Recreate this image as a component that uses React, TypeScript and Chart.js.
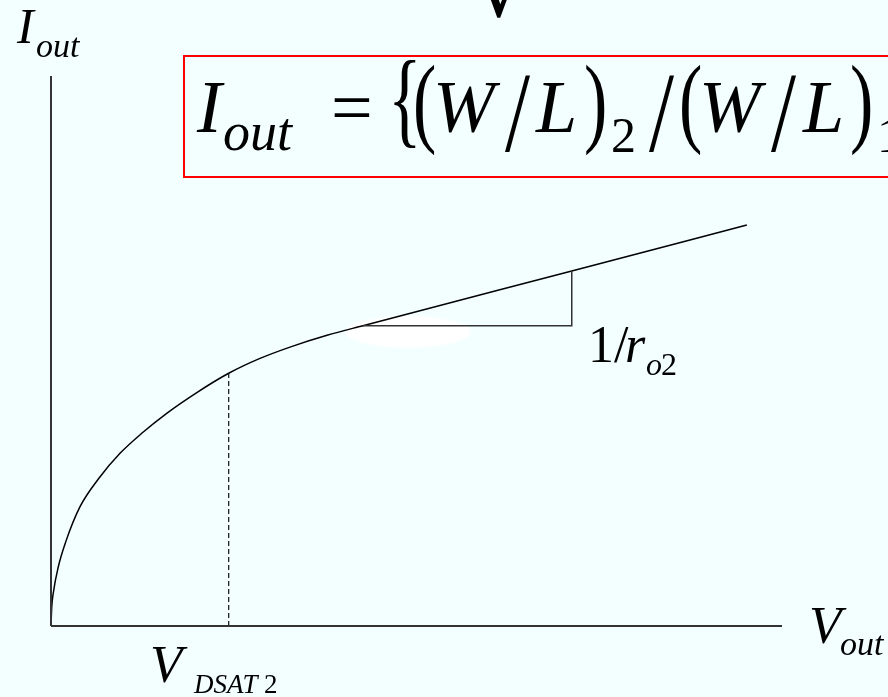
import { useEffect, useRef } from "react";
import { Chart, registerables } from "chart.js";

Chart.register(...registerables);

// Output characteristic of the current mirror: V_out samples and I_out values
const vout = [0, 0.01, 0.03, 0.1, 0.2, 0.397, 0.65, 0.944, 1.25, 1.583, 2.0, 2.431, 2.859, 3.289, 3.776, 4.267, 7.124, 9.519];
const iout = [0, 0.341, 0.59, 1.078, 1.525, 2.169, 2.677, 3.14, 3.513, 3.867, 4.249, 4.595, 4.865, 5.08, 5.285, 5.46, 6.455, 7.291];

// sample where saturation starts (V_DSAT2) and the run/rise used for the 1/r_o2 slope
const vdsatIndex = 11;
const slopeFrom = 15;
const slopeTo = 16;

// axis extents
const xRange = [0, 10];
const yRange = [0, 10];

const BG = "#f3ffff";
const SERIF = "'Liberation Serif', 'Times New Roman', serif";

type Glyph = { t: string; x: number; y: number; size: number; italic?: boolean; sy?: number; font?: string };

// equation in the red frame (brackets and slashes are stretched vertically)
const equation: Glyph[] = [
  { t: "I", x: 197, y: 132, size: 74, italic: true },
  { t: "out", x: 223, y: 150, size: 54, italic: true },
  { t: "=", x: 331, y: 132, size: 74 },
  { t: "{", x: 388, y: 134, size: 70, sy: 1.5 },
  { t: "(", x: 413, y: 134, size: 70, sy: 1.42 },
  { t: "W", x: 433, y: 132, size: 74, italic: true },
  { t: "/", x: 505, y: 151, size: 90, sy: 1.28 },
  { t: "L", x: 536, y: 132, size: 74, italic: true },
  { t: ")", x: 584, y: 134, size: 70, sy: 1.42 },
  { t: "2", x: 611, y: 152, size: 50 },
  { t: "/", x: 649, y: 151, size: 90, sy: 1.28 },
  { t: "(", x: 679, y: 134, size: 70, sy: 1.42 },
  { t: "W", x: 699, y: 132, size: 74, italic: true },
  { t: "/", x: 771, y: 151, size: 90, sy: 1.28 },
  { t: "L", x: 803, y: 132, size: 74, italic: true },
  { t: ")", x: 850, y: 134, size: 70, sy: 1.42 },
  { t: "1", x: 877, y: 152, size: 50 },
];

// axis and annotation labels
const labels: Glyph[] = [
  { t: "I", x: 17, y: 43, size: 50, italic: true },
  { t: "out", x: 36, y: 57, size: 34, italic: true },
  { t: "V", x: 809, y: 643, size: 53, italic: true },
  { t: "out", x: 840, y: 655, size: 34, italic: true },
  { t: "V", x: 150, y: 682, size: 53, italic: true },
  { t: "DSAT", x: 194, y: 693, size: 27, italic: true },
  { t: "2", x: 264, y: 693, size: 27 },
  { t: "1/", x: 588, y: 362, size: 52 },
  { t: "r", x: 625, y: 362, size: 52, italic: true },
  { t: "o", x: 646, y: 375, size: 32, italic: true },
  { t: "2", x: 661, y: 375, size: 32 },
  { t: "\u221A", x: 474, y: 16, size: 90, font: "'DejaVu Serif', serif" },
];

function drawGlyphs(ctx: CanvasRenderingContext2D, glyphs: Glyph[]) {
  ctx.fillStyle = "#000";
  ctx.textAlign = "left";
  ctx.textBaseline = "alphabetic";
  for (const g of glyphs) {
    ctx.save();
    ctx.font = `${g.italic ? "italic " : ""}${g.size}px ${g.font ?? SERIF}`;
    ctx.translate(g.x, g.y);
    ctx.scale(1, g.sy ?? 1);
    ctx.fillText(g.t, 0, 0);
    ctx.restore();
  }
}

const pt = (i: number) => ({ x: vout[i], y: iout[i] });

export default function App() {
  const ref = useRef<HTMLCanvasElement | null>(null);

  useEffect(() => {
    document.body.style.margin = "0";
    document.body.style.background = BG;
    const canvas = ref.current;
    if (!canvas) return;

    const curve = vout.map((v, i) => ({ x: v, y: iout[i] }));
    const dsat = pt(vdsatIndex);
    const a = pt(slopeFrom);
    const b = pt(slopeTo);

    const decorations = {
      id: "decorations",
      beforeDatasetsDraw(chart: Chart) {
        const { ctx } = chart;
        // white highlight just under the start of the slope triangle
        const cx = chart.scales.x.getPixelForValue(a.x) + 45;
        const cy = chart.scales.y.getPixelForValue(a.y) + 6;
        ctx.save();
        ctx.fillStyle = "#ffffff";
        ctx.filter = "blur(1px)";
        ctx.beginPath();
        ctx.ellipse(cx, cy, 63, 16, 0, 0, Math.PI * 2);
        ctx.fill();
        ctx.restore();
      },
      afterDraw(chart: Chart) {
        const { ctx } = chart;
        ctx.save();
        ctx.strokeStyle = "#ff0000";
        ctx.lineWidth = 2;
        ctx.strokeRect(184, 56, 760, 121);
        drawGlyphs(ctx, equation);
        drawGlyphs(ctx, labels);
        ctx.restore();
      },
    };

    const chart = new Chart(canvas, {
      type: "scatter",
      data: {
        datasets: [
          {
            label: "I axis",
            data: [{ x: xRange[0], y: yRange[0] }, { x: xRange[0], y: yRange[1] }],
            showLine: true,
            borderColor: "#333",
            borderWidth: 2,
            pointRadius: 0,
            clip: false,
          },
          {
            label: "V axis",
            data: [{ x: xRange[0], y: yRange[0] }, { x: xRange[1], y: yRange[0] }],
            showLine: true,
            borderColor: "#333",
            borderWidth: 2,
            pointRadius: 0,
            clip: false,
          },
          {
            label: "V_DSAT2",
            data: [{ x: dsat.x, y: yRange[0] }, dsat],
            showLine: true,
            borderColor: "#111",
            borderWidth: 1.2,
            borderDash: [5, 3],
            pointRadius: 0,
            clip: false,
          },
          {
            label: "1/r_o2",
            data: [a, { x: b.x, y: a.y }, b],
            showLine: true,
            borderColor: "#333",
            borderWidth: 1.5,
            pointRadius: 0,
            clip: false,
          },
          {
            label: "I_out",
            data: curve,
            showLine: true,
            borderColor: "#000",
            borderWidth: 1.5,
            pointRadius: 0,
            tension: 0.4,
            cubicInterpolationMode: "monotone",
            clip: false,
          },
        ],
      },
      options: {
        animation: false,
        responsive: false,
        maintainAspectRatio: false,
        layout: { padding: { left: 51, right: 106, top: 76, bottom: 71 } },
        plugins: { legend: { display: false }, tooltip: { enabled: false } },
        scales: {
          x: { type: "linear", min: xRange[0], max: xRange[1], display: false },
          y: { type: "linear", min: yRange[0], max: yRange[1], display: false },
        },
      },
      plugins: [decorations],
    });
    return () => chart.destroy();
  }, []);

  return (
    <div style={{ position: "fixed", left: 0, top: 0, width: 888, height: 697, background: BG }}>
      <canvas ref={ref} width={888} height={697} style={{ display: "block" }} />
    </div>
  );
}
